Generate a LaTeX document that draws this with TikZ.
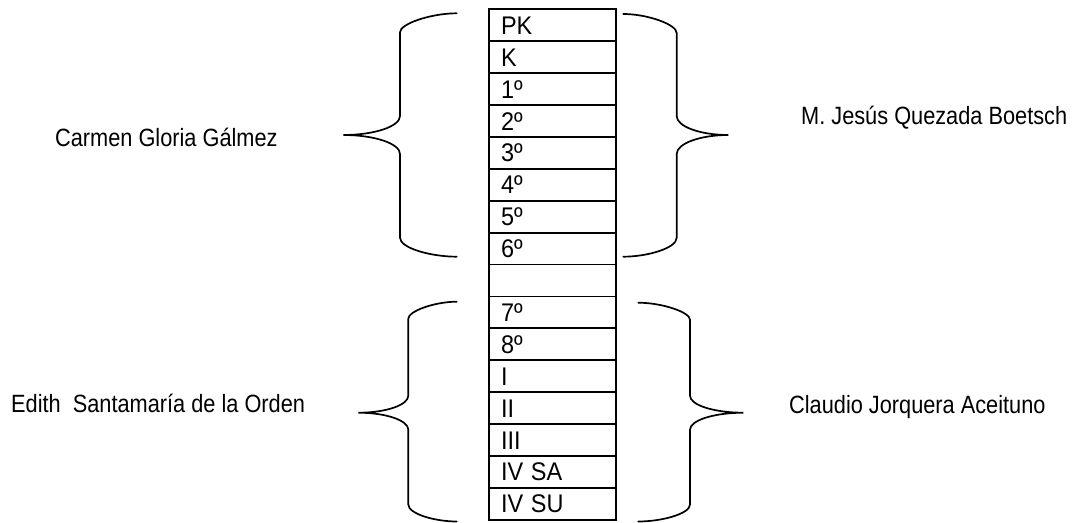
\documentclass[tikz,border=0pt]{standalone}
\usepackage{graphicx}
\usepackage{fontspec}
\setmainfont{Liberation Sans}
\tikzset{
  rowbox/.style={draw, line width=1.8pt, minimum height=31.9pt, text width=103pt,
    inner xsep=12pt, inner ysep=0pt, align=left, text height=18.2pt, text depth=0pt,
    font=\fontsize{25.5}{28}\selectfont},
  bracestyle/.style={line width=1.7pt, line cap=round},
  namelabel/.style={anchor=base west, inner sep=0pt}
}
\newcommand{\namefont}[1]{\scalebox{0.87}[1]{\fontsize{25}{28}\selectfont #1}}
\newcommand{\rowtext}[1]{\scalebox{0.92}[1]{#1}}
% #1 end x, #2 vertical x, #3 tip x, #4 top y, #5 tip y, #6 bottom y, #7 arc height
\newcommand{\drawbrace}[7]{%
  \pgfmathsetmacro\bA{#2+0.55*(#1-#2)}%
  \pgfmathsetmacro\bB{#3+0.55*(#2-#3)}%
  \draw[bracestyle] (#1,#4) .. controls (\bA,#4) and (#2,#4+0.55*#7) .. (#2,#4+#7)
    -- (#2,#5-#7) .. controls (#2,#5-0.45*#7) and (\bB,#5) .. (#3,#5)
    .. controls (\bB,#5) and (#2,#5+0.45*#7) .. (#2,#5+#7)
    -- (#2,#6-#7) .. controls (#2,#6-0.45*#7) and (\bA,#6) .. (#1,#6);}
\begin{document}
\begin{tikzpicture}[x=1pt,y=-1pt]
\useasboundingbox (0,0) rectangle (1075,522);
\foreach \lab [count=\i] in {PK,K,1º,2º,3º,4º,5º,6º,{},7º,8º,I,II,III,IV SA,IV SU}{
  \node[rowbox] (r\i) at (552.5,{9.3+31.9*(\i-0.5)}) {\rowtext{\lab}};
}
\drawbrace{456.7}{400}{343.3}{13.3}{135}{256.7}{19}
\drawbrace{623.3}{676.7}{728.3}{14}{135}{256.7}{19}
\drawbrace{456.7}{408.3}{358.3}{301.7}{412.7}{521.5}{17}
\drawbrace{638.3}{690}{743.3}{302.7}{412.7}{521.5}{17}
\node[namelabel] (carmen) at (55,146.7) {\namefont{Carmen Gloria Gálmez}};
\node[namelabel] (jesus) at (801,124) {\namefont{M. Jesús Quezada Boetsch}};
\node[namelabel] (edith) at (11,412.5) {\namefont{Edith\ \ Santamaría de la Orden}};
\node[namelabel] (claudio) at (789,413) {\namefont{Claudio Jorquera Aceituno}};
\end{tikzpicture}
\end{document}
